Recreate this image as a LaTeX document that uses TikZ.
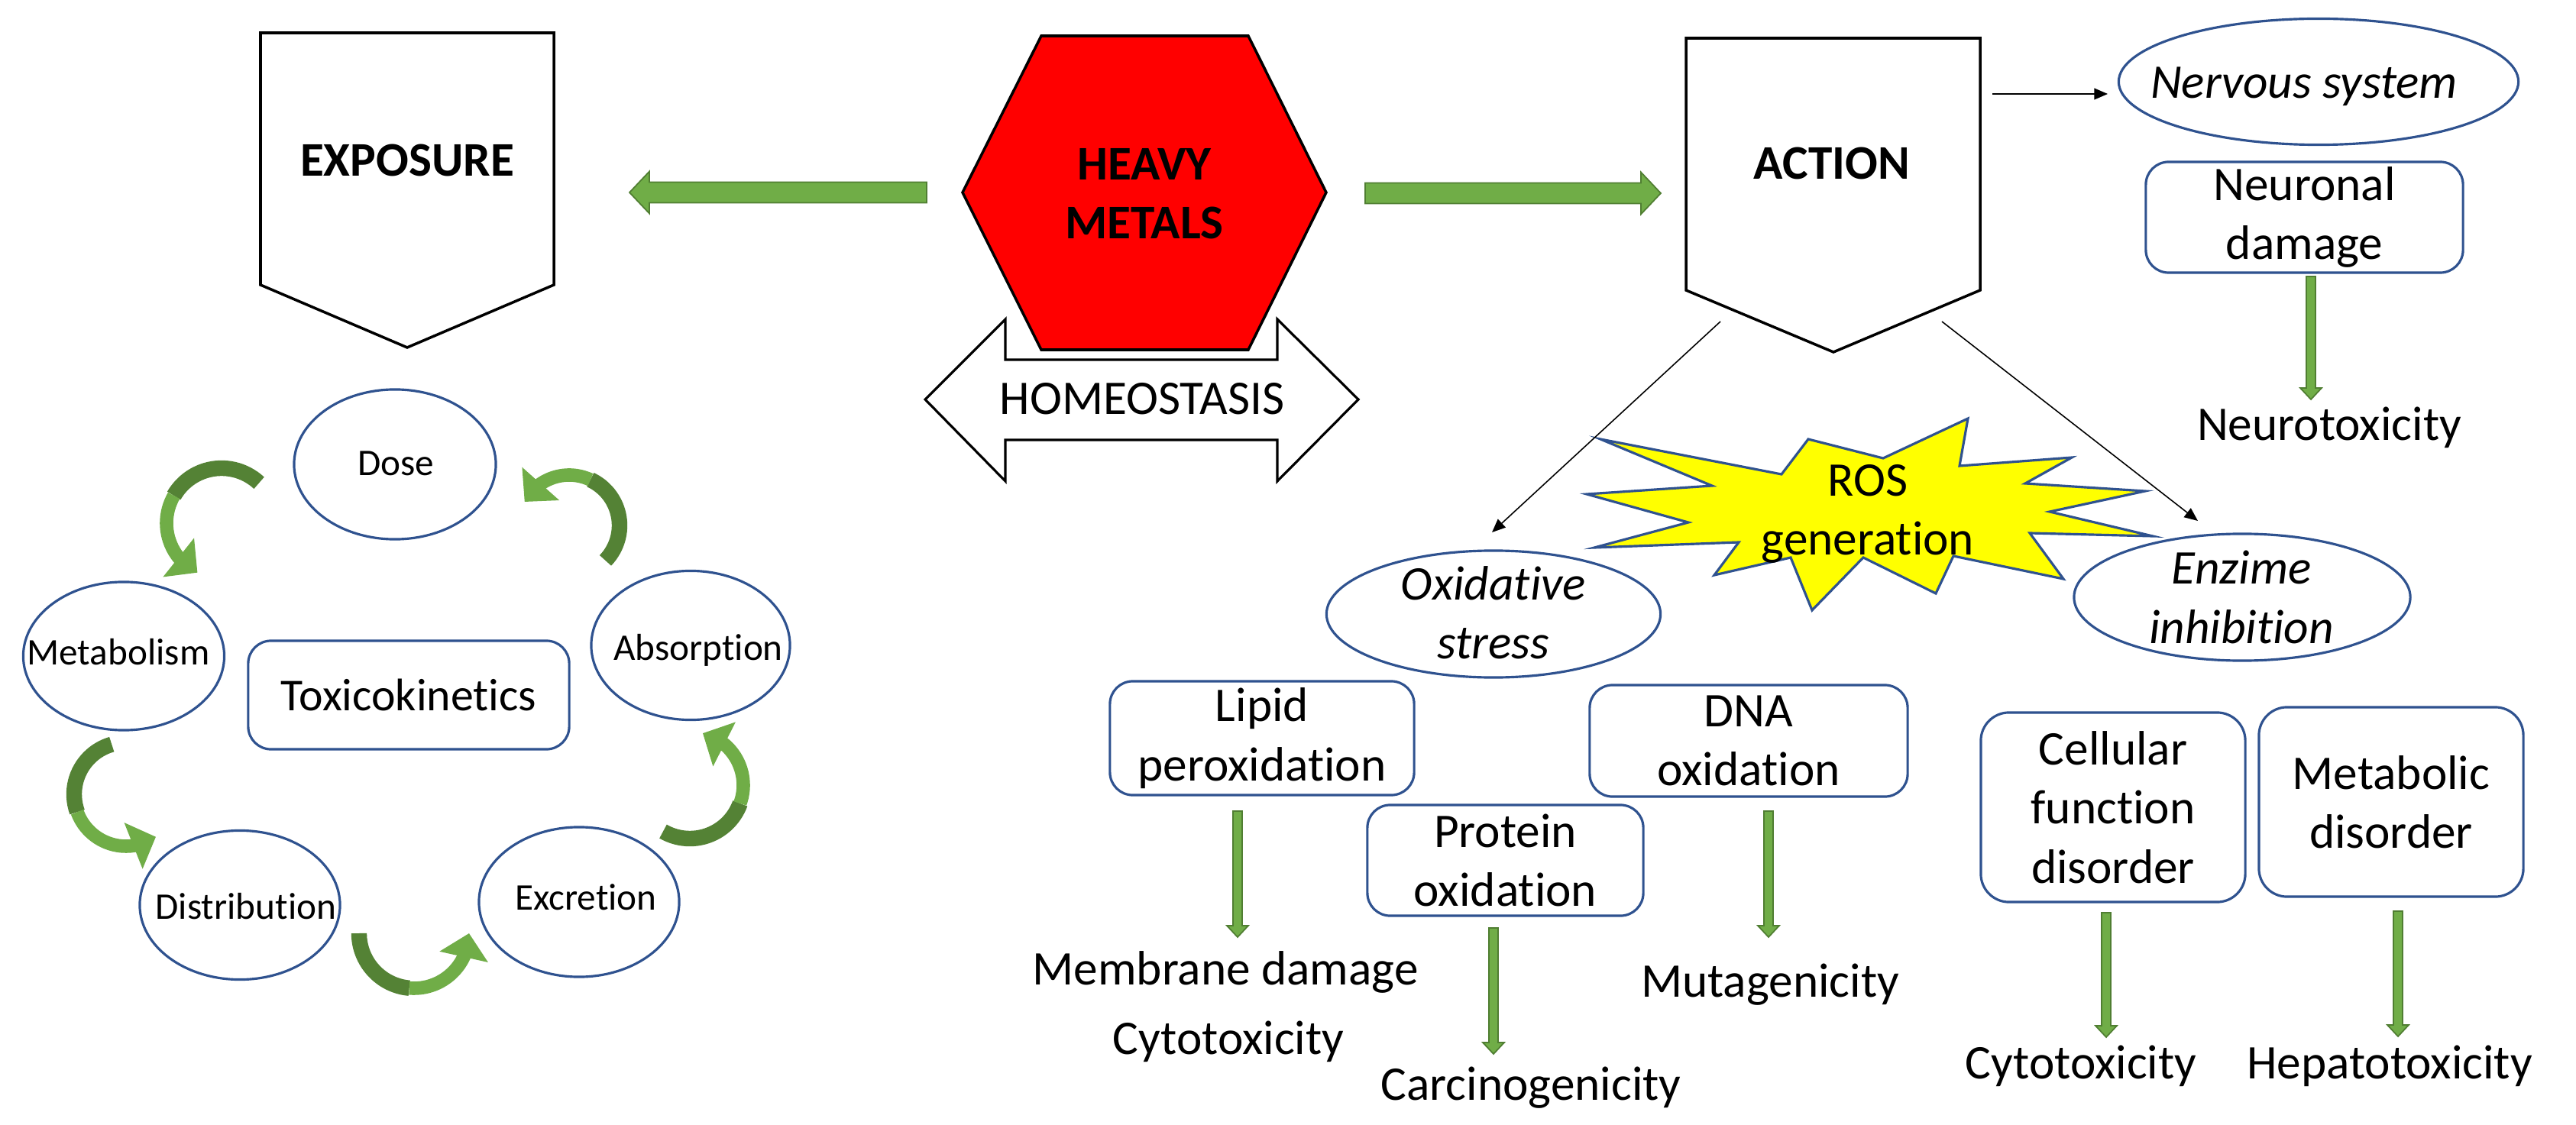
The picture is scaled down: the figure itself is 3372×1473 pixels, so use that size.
\documentclass[tikz,border=0pt]{standalone}
\usepackage{fontspec}
\setmainfont{Carlito}[Ligatures={NoCommon}]
\usetikzlibrary{shapes.geometric,arrows.meta,calc,bending}
\definecolor{gl}{HTML}{70AD47}
\definecolor{gd}{HTML}{548235}
\definecolor{gline}{HTML}{507E32}
\definecolor{bl}{HTML}{2F528F}
\definecolor{ystar}{HTML}{FFFF00}
\definecolor{hexred}{HTML}{FF0000}
\tikzset{
  bigtxt/.style={font=\fontsize{18}{22}\selectfont, align=center, inner sep=0pt, text=black},
  boldtxt/.style={font=\bfseries\fontsize{18}{22}\selectfont, align=center, inner sep=0pt, text=black},
  ittxt/.style={font=\itshape\fontsize{18}{22}\selectfont, align=center, inner sep=0pt, text=black},
  cyctxt/.style={font=\fontsize{14}{17}\selectfont, inner sep=0pt, text=black},
  oval/.style={ellipse, draw=bl, line width=0.9pt, fill=white, inner sep=0pt},
  rbox/.style={rectangle, draw=bl, line width=0.9pt, fill=white, rounded corners=8.5pt, inner sep=0pt, align=center, font=\fontsize{18}{22}\selectfont},
  outline/.style={draw=black, line width=1pt},
  gblock/.style={fill=gl, draw=gline, line width=0.5pt},
  cdark/.style={draw=gd, line width=5.8pt},
  clight/.style={draw=gl, line width=5pt, -{Triangle[width=18pt,length=9pt,flex]}},
  tarrow/.style={draw=black, line width=0.45pt, -{Triangle[length=5pt,width=4.2pt]}},
}
\newcommand\gdownarrow[2]{\path[gblock] ($(#1)+(-6,0)$) -- ($(#2)+(-6,-15)$) -- ($(#2)+(-14,-15)$) -- (#2) -- ($(#2)+(14,-15)$) -- ($(#2)+(6,-15)$) -- ($(#1)+(6,0)$) -- cycle;}
\newcommand\ghorarrow[3]{\path[gblock] ($(#1)+(0,-13.5)$) -- ($(#2)+(#3,-13.5)$) -- ($(#2)+(#3,-27.5)$) -- (#2) -- ($(#2)+(#3,27.5)$) -- ($(#2)+(#3,13.5)$) -- ($(#1)+(0,13.5)$) -- cycle;}
\newcommand\gcurved[5]{%
  \draw[cdark] ($(#1)+(#3:#2)$) arc[start angle=#3, end angle=#4, radius=#2];
  \draw[clight] ($(#1)+(#4:#2)$) arc[start angle=#4, end angle=#5, radius=#2];}
\begin{document}
\begin{tikzpicture}[x=0.01cm,y=-0.01cm]
\useasboundingbox (0,0) rectangle (3372,1473);
\fill[white] (0,0) rectangle (3372,1473);

% EXPOSURE
\draw[outline, fill=white] (341,43) -- (725,43) -- (725,373) -- (533,455) -- (341,373) -- cycle;
\node[boldtxt, anchor=base] (exposure) at (533,231) {EXPOSURE};

% ACTION
\draw[outline, fill=white] (2207,50) -- (2592,50) -- (2592,380) -- (2400,461) -- (2207,380) -- cycle;
\node[boldtxt, anchor=base] (action) at (2398,235) {ACTION};

% HOMEOSTASIS double arrow
\draw[draw=black, line width=0.9pt, fill=white] (1211,523) -- (1316,418) -- (1316,471) -- (1672,471) -- (1672,418) -- (1778,523) -- (1672,630) -- (1672,576) -- (1316,576) -- (1316,630) -- cycle;
\node[bigtxt, anchor=base] (homeo) at (1495,543) {HOMEOSTASIS};

% HEAVY METALS hexagon
\draw[outline, fill=hexred] (1363,47) -- (1634,47) -- (1736,252) -- (1634,458) -- (1363,458) -- (1260,252) -- cycle;
\node[boldtxt] (heavy) at (1498,254) {HEAVY\\METALS};

% big green arrows
\coordinate (hexL) at (1213,252); \coordinate (expoR) at (824,252);
\coordinate (hexR) at (1787,253); \coordinate (actW) at (2174,253);
\ghorarrow{hexL}{expoR}{26}
\ghorarrow{hexR}{actW}{-26}

% toxicokinetics cycle
\node[oval, minimum width=2.64cm, minimum height=1.96cm] (dose) at (517,608) {};
\node[oval, minimum width=2.63cm, minimum height=1.94cm] (metabo) at (162,859) {};
\node[oval, minimum width=2.60cm, minimum height=1.95cm] (absorp) at (904,845) {};
\node[oval, minimum width=2.62cm, minimum height=1.95cm] (distrib) at (314,1185) {};
\node[oval, minimum width=2.62cm, minimum height=1.96cm] (excr) at (758,1181) {};
\node[cyctxt, anchor=base] (dose-t) at (518,623) {Dose};
\node[cyctxt, anchor=base] (metabo-t) at (155,870) {Metabolism};
\node[cyctxt, anchor=base] (absorp-t) at (914,864) {Absorption};
\node[cyctxt, anchor=base] (distrib-t) at (322,1203) {Distribution};
\node[cyctxt, anchor=base] (excr-t) at (767,1191) {Excretion};
\node[rbox, minimum width=4.2cm, minimum height=1.42cm, font=\fontsize{17}{20}\selectfont] (tox) at (535,910) {Toxicokinetics};

\coordinate (ca) at (290,685); \gcurved{ca}{72}{-47}{-150}{-244}
\coordinate (cb) at (745,688); \gcurved{cb}{66}{44}{-65}{-152}
\coordinate (cc) at (165,1040); \gcurved{cc}{68}{-106}{-200}{-305}
\coordinate (cd) at (542,1222); \gcurved{cd}{72}{180}{95}{0}
\coordinate (ce) at (903,1028); \gcurved{ce}{70}{120}{20}{-76}

% nervous system branch
\node[oval, minimum width=5.23cm, minimum height=1.65cm] (nerv) at (3035,107) {};
\node[ittxt, anchor=base] (nerv-t) at (3016,129) {Nervous system};
\coordinate (act-n) at (2608,123); \coordinate (nerv-w) at (2759,123);
\draw[tarrow] (act-n) -- (nerv-w);
\node[rbox, minimum width=4.15cm, minimum height=1.45cm] (neur) at (3016.5,284.5) {Neuronal\\damage};
\coordinate (neur-s) at (3025,362); \coordinate (ntox-n) at (3025,523);
\gdownarrow{neur-s}{ntox-n}
\node[bigtxt, anchor=base] (ntox) at (3049,577) {Neurotoxicity};

% ROS star
\draw[fill=ystar, draw=bl, line width=0.9pt] (2095,575) -- (2241,636) -- (2077,647) -- (2210,684) -- (2087,717) -- (2276,710) -- (2244,753) -- (2344,730) -- (2372,799) -- (2439,730) -- (2534,777) -- (2557,728) -- (2701,758) -- (2657,698) -- (2818,702) -- (2683,670) -- (2808,643) -- (2651,633) -- (2712,599) -- (2565,610) -- (2576,548) -- (2465,600) -- (2367,575) -- (2332,621) -- cycle;
\node[bigtxt] (ros) at (2445,673) {ROS\\generation};

% oxidative stress / enzime inhibition
\node[oval, minimum width=4.37cm, minimum height=1.66cm] (oxid) at (1955,804) {};
\node[ittxt] (oxid-t) at (1955,802) {Oxidative\\stress};
\node[oval, minimum width=4.40cm, minimum height=1.66cm] (enz) at (2935,782) {};
\node[ittxt] (enz-t) at (2934,782) {Enzime\\inhibition};
\coordinate (act-sw) at (2252,421); \coordinate (oxid-n) at (1953,697);
\coordinate (act-se) at (2542,421); \coordinate (enz-n) at (2877,682);
\draw[tarrow] (act-sw) -- (oxid-n);
\draw[tarrow] (act-se) -- (enz-n);

% oxidation boxes
\node[rbox, minimum width=3.98cm, minimum height=1.49cm] (lipid) at (1652,966.5) {Lipid\\peroxidation};
\node[rbox, minimum width=4.16cm, minimum height=1.46cm] (dna) at (2289,970) {DNA\\oxidation};
\node[rbox, minimum width=3.61cm, minimum height=1.45cm] (prot) at (1970.5,1126.5) {Protein\\oxidation};
\node[rbox, minimum width=3.46cm, minimum height=2.48cm, rounded corners=10.5pt] (cell) at (2766,1057) {Cellular\\function\\disorder};
\node[rbox, minimum width=3.46cm, minimum height=2.48cm, rounded corners=10.5pt] (metdis) at (3130,1050) {Metabolic\\disorder};

\coordinate (lipid-s) at (1620,1062); \coordinate (memb-n) at (1620,1227);
\coordinate (prot-s) at (1955,1215); \coordinate (carc-n) at (1955,1380);
\coordinate (dna-s) at (2315,1062); \coordinate (muta-n) at (2315,1227);
\coordinate (cell-s) at (2757,1195); \coordinate (cyto-n) at (2757,1358);
\coordinate (metdis-s) at (3139,1193); \coordinate (hepa-n) at (3139,1357);
\gdownarrow{lipid-s}{memb-n}
\gdownarrow{prot-s}{carc-n}
\gdownarrow{dna-s}{muta-n}
\gdownarrow{cell-s}{cyto-n}
\gdownarrow{metdis-s}{hepa-n}

\node[bigtxt, anchor=base] (memb) at (1604,1289) {Membrane damage};
\node[bigtxt, anchor=base] (cytoA) at (1608,1380) {Cytotoxicity};
\node[bigtxt, anchor=base] (carc) at (2004,1440) {Carcinogenicity};
\node[bigtxt, anchor=base] (muta) at (2317,1305) {Mutagenicity};
\node[bigtxt, anchor=base] (cytoB) at (2724,1412) {Cytotoxicity};
\node[bigtxt, anchor=base] (hepa) at (3128,1412) {Hepatotoxicity};
\end{tikzpicture}
\end{document}
